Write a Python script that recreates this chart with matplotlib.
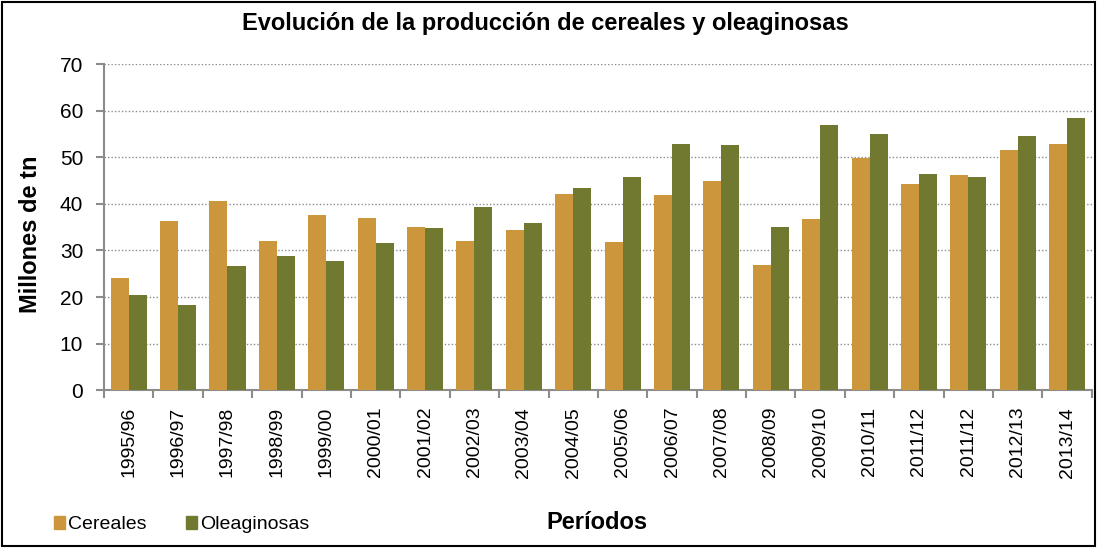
import numpy as np
import matplotlib
matplotlib.use('Agg')
import matplotlib.pyplot as plt
from matplotlib.patches import Rectangle, Patch

plt.rcParams['font.family'] = ['Liberation Sans', 'DejaVu Sans']

periodos = ['1995/96', '1996/97', '1997/98', '1998/99', '1999/00', '2000/01',
            '2001/02', '2002/03', '2003/04', '2004/05', '2005/06', '2006/07',
            '2007/08', '2008/09', '2009/10', '2010/11', '2011/12', '2011/12',
            '2012/13', '2013/14']
cereales = [24.0, 36.3, 40.7, 32.1, 37.7, 36.9, 35.1, 32.1, 34.4, 42.1,
            31.9, 41.9, 44.8, 26.8, 36.8, 49.8, 44.2, 46.2, 51.5, 52.8]
oleaginosas = [20.4, 18.3, 26.6, 28.8, 27.7, 31.5, 34.9, 39.4, 35.8, 43.3,
               45.7, 52.8, 52.6, 35.1, 56.9, 54.9, 46.5, 45.7, 54.5, 58.4]

c_cer = '#CC963C'
c_ole = '#717830'

fig = plt.figure(figsize=(10.97, 5.48), dpi=100)
ax = fig.add_axes([0.0948, 0.288, 0.9005, 0.595])

x = np.arange(len(periodos))
w = 0.365
ax.bar(x - w/2, cereales, w, color=c_cer, label='Cereales', zorder=3)
ax.bar(x + w/2, oleaginosas, w, color=c_ole, label='Oleaginosas', zorder=3)

ax.set_xlim(-0.5, len(periodos) - 0.5)
ax.set_ylim(0, 70)
ax.set_yticks(range(0, 71, 10))
ax.yaxis.grid(True, linestyle=(0, (1, 1.5)), color='#8c8c8c', linewidth=1.0, zorder=0)

# ticks at category boundaries, labels centred
ax.set_xticks(np.arange(-0.5, len(periodos), 1.0))
ax.set_xticklabels([])
ax.set_xticks(x, minor=True)
ax.set_xticklabels(periodos, minor=True, rotation=90, fontsize=14)
ax.tick_params(axis='x', which='minor', length=0, pad=12)
ax.tick_params(axis='x', which='major', length=6, width=1.5, color='#8c8c8c', direction='out')
ax.tick_params(axis='y', length=6, width=1.5, color='#8c8c8c', labelsize=15, pad=9)

for s in ['top', 'right']:
    ax.spines[s].set_visible(False)
for s in ['left', 'bottom']:
    ax.spines[s].set_color('#8c8c8c')
    ax.spines[s].set_linewidth(1.5)

fig.text(0.028, 0.572, 'Millones de tn', rotation=90, ha='center', va='center',
         fontsize=17, fontweight='bold')
fig.text(0.497, 0.958, 'Evolución de la producción de cereales y oleaginosas',
         ha='center', va='center', fontsize=17, fontweight='bold')
fig.text(0.544, 0.047, 'Períodos', ha='center', va='center', fontsize=17, fontweight='bold')

handles = [Patch(color=c_cer), Patch(color=c_ole)]
fig.legend(handles, ['Cereales', 'Oleaginosas'], loc='center left',
           bbox_to_anchor=(0.049, 0.042), ncol=2, frameon=False, fontsize=14,
           borderpad=0, borderaxespad=0,
           handlelength=0.6, handleheight=0.6, handletextpad=0.15, columnspacing=2.0)

fig.patches.append(Rectangle((0.002, 0.003), 0.996, 0.994, transform=fig.transFigure,
                             fill=False, edgecolor='black', linewidth=1.5))

fig.savefig('out.png', dpi=100)
